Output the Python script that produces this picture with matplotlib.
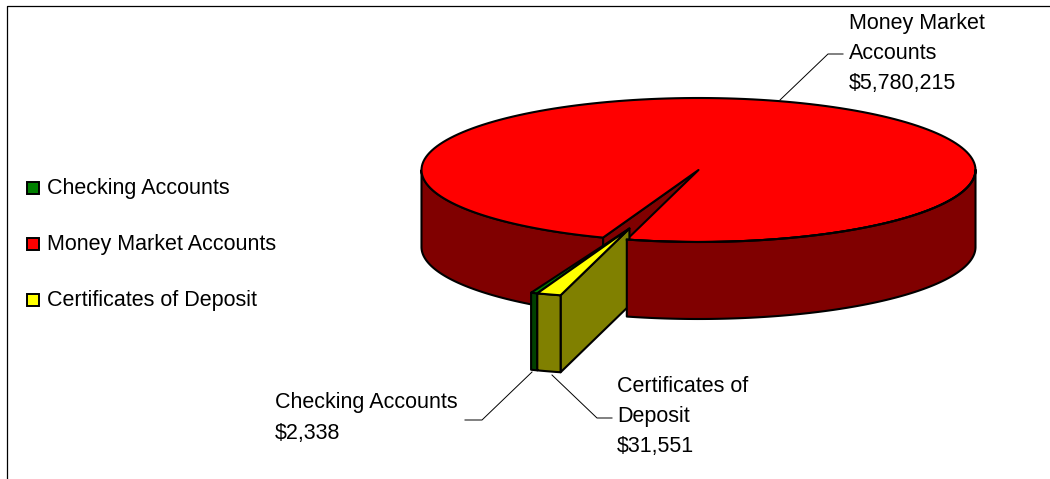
import matplotlib
matplotlib.use('Agg')
import matplotlib.pyplot as plt
from matplotlib.patches import Polygon, Rectangle
import numpy as np

plt.rcParams['font.family'] = ['Liberation Sans', 'DejaVu Sans']

# nilai dari gambar
categories = ['Checking Accounts', 'Money Market Accounts', 'Certificates of Deposit']
balances = [2338, 5780215, 31551]
top_colors = ['#008000', '#ff0000', '#ffff00']
side_colors = ['#004000', '#800000', '#808000']

# geometri pie 3D (piksel)
cx, cy, rx, ry, depth = 698.5, 170, 277, 72, 77
start = 105        # tepi kanan slice merah
explode = 0.85
slice_r = 0.96
near = 1.3         # slice yang dekat kamera terlihat lebih lebar
edge = 1.5

fig = plt.figure(figsize=(10.5, 4.79), dpi=100)
ax = fig.add_axes([0, 0, 1, 1])
ax.set_xlim(0, 1050)
ax.set_ylim(479, 0)
ax.axis('off')

# bingkai
ax.plot([7, 7, 1050], [479, 6, 6], color='black', lw=0.9, solid_capstyle='butt')


def rim(a0, a1, x0=cx, y0=cy, r=1.0):
    t = np.radians(np.linspace(a0, a1, 200))
    return np.column_stack([x0 + r * rx * np.cos(t), y0 + r * ry * np.sin(t)])


def add_poly(pts, color, lw=edge, z=2):
    ax.add_patch(Polygon(pts, closed=True, facecolor=color, edgecolor='black',
                         lw=lw, joinstyle='round', zorder=z))


def side(a0, a1, color, x0=cx, y0=cy, r=1.0, z=2):
    top = rim(a0, a1, x0, y0, r)
    add_poly(np.vstack([top, top[::-1] + [0, depth]]), color, z=z)


share = np.array(balances) / sum(balances)
# irisan kecil nyaris tak terlihat kalau proporsional, jadi dilebarkan
sweep_check = 55 * np.sqrt(share[0])
sweep_cd = 55 * np.sqrt(share[2])
red_left = start + sweep_check + sweep_cd

# dinding dalam + sisi kiri merah
c_top = [cx, cy]
p = rim(red_left, red_left)[0]
add_poly([c_top, p, p + [0, depth], [cx, cy + depth]], side_colors[1], z=2)
side(red_left, 180, side_colors[1], z=3)

# permukaan atas merah
arc = rim(red_left, start + 360)
add_poly(np.vstack([[c_top], arc]), top_colors[1], z=4)

# slice yang ditarik keluar
mid = np.radians(start + (sweep_check + sweep_cd) * 0.4)
ax_, ay_ = cx + explode * rx * np.cos(mid), cy + explode * ry * np.sin(mid)
a_cd = start + sweep_cd * near
a_check = a_cd + sweep_check * near

side(a_cd, a_check, side_colors[0], ax_, ay_, slice_r, z=5)
add_poly(np.vstack([[[ax_, ay_]], rim(a_cd, a_check, ax_, ay_, slice_r)]), top_colors[0], z=5)

q = rim(start, start, ax_, ay_, slice_r)[0]
add_poly([[ax_, ay_], q, q + [0, depth], [ax_, ay_ + depth]], side_colors[2], z=6)
side(start, a_cd, side_colors[2], ax_, ay_, slice_r, z=6)
add_poly(np.vstack([[[ax_, ay_]], rim(start, a_cd, ax_, ay_, slice_r)]), top_colors[2], z=6)

# sisi kanan merah di depan
side(0, start, side_colors[1], z=7)
arc_r = rim(0, start)
ax.plot(arc_r[:, 0], arc_r[:, 1], color='black', lw=edge, zorder=8)

# legenda
fs = 15.5
for y, name, col in zip([188, 244, 300], categories, top_colors):
    ax.add_patch(Rectangle((26.5, y - 6), 12, 12, facecolor=col, edgecolor='black', lw=1.4, zorder=9))
    ax.text(47, y + 0.5, name, fontsize=fs, va='center', ha='left', zorder=9)

# label data
labels = [
    (275, [402, 433], ['Checking Accounts', f'${balances[0]:,}']),
    (849, [23, 53, 83], ['Money Market', 'Accounts', f'${balances[1]:,}']),
    (617, [386, 416, 446], ['Certificates of', 'Deposit', f'${balances[2]:,}']),
]
for x, ys, lines in labels:
    for y, line in zip(ys, lines):
        ax.text(x, y + 0.5, line, fontsize=fs, va='center', ha='left', zorder=9)

# garis penunjuk
leaders = [
    ([532, 482, 465], [372, 420, 420]),
    ([780, 828, 843], [100, 54, 54]),
    ([552, 597, 612], [375, 418, 418]),
]
for xs, ys in leaders:
    ax.plot(xs, ys, color='black', lw=0.7, zorder=9)

fig.savefig('out.png', dpi=100)
